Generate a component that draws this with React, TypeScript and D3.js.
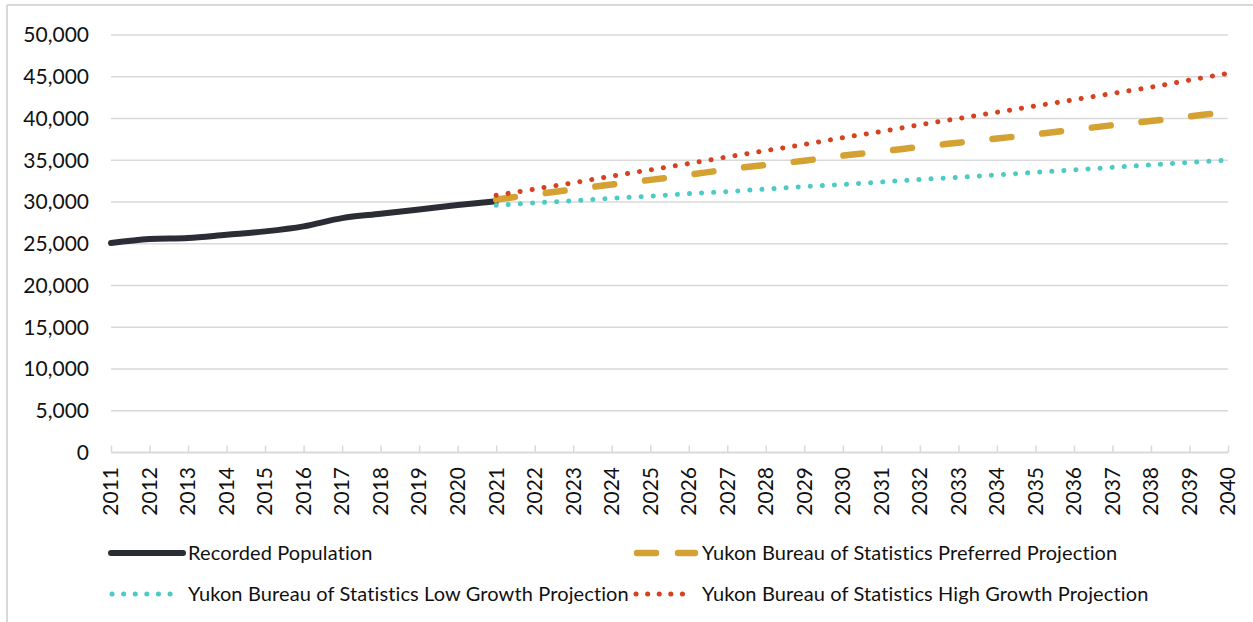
import React, { useEffect, useRef } from "react"
import * as d3 from "d3"

const recordedYears = [2011, 2012, 2013, 2014, 2015, 2016, 2017, 2018, 2019, 2020, 2021]
const recorded = [25080, 25560, 25680, 26080, 26480, 27080, 28070, 28590, 29110, 29630, 30100]

const projYears = [2021, 2022, 2023, 2024, 2025, 2026, 2027, 2028, 2029, 2030, 2031, 2032, 2033, 2034, 2035, 2036, 2037, 2038, 2039, 2040]
const preferred = [30300, 30900, 31500, 32100, 32650, 33250, 33900, 34450, 34950, 35550, 36050, 36600, 37100, 37600, 38100, 38650, 39200, 39700, 40250, 40800]
const lowGrowth = [29600, 29900, 30150, 30450, 30700, 31000, 31250, 31550, 31850, 32100, 32400, 32700, 32950, 33250, 33550, 33850, 34150, 34450, 34750, 35000]
const highGrowth = [30800, 31550, 32300, 33100, 33850, 34600, 35400, 36150, 36900, 37700, 38450, 39250, 40000, 40750, 41500, 42250, 43000, 43750, 44600, 45400]

const yTicks = [0, 5000, 10000, 15000, 20000, 25000, 30000, 35000, 40000, 45000, 50000]
const xTicks = d3.range(2011, 2041)

const FONT = "Lato, 'Open Sans', sans-serif"
const GRID = "#d9d9d9"

const series = [
  { name: "Recorded Population", years: recordedYears, values: recorded, color: "#2b2d34", width: 6, dash: null },
  { name: "Yukon Bureau of Statistics Preferred Projection", years: projYears, values: preferred, color: "#d4a232", width: 6.5, dash: "19,31" },
  { name: "Yukon Bureau of Statistics Low Growth Projection", years: projYears, values: lowGrowth, color: "#4ccac4", width: 5, dash: "0.1,12" },
  { name: "Yukon Bureau of Statistics High Growth Projection", years: projYears, values: highGrowth, color: "#d6421f", width: 5, dash: "0.1,12" },
]

export default function App() {
  const ref = useRef<SVGSVGElement>(null)

  useEffect(() => {
    const svg = d3.select(ref.current)
    svg.selectAll("*").remove()

    // frame
    svg.append("line").attr("x1", 7).attr("x2", 7).attr("y1", 5).attr("y2", 622).attr("stroke", GRID).attr("stroke-width", 2)
    svg.append("line").attr("x1", 7).attr("x2", 1253).attr("y1", 5).attr("y2", 5).attr("stroke", GRID).attr("stroke-width", 2)

    const x = d3.scaleLinear().domain([2011, 2040]).range([111, 1228])
    const y = d3.scaleLinear().domain([0, 50000]).range([452.5, 35])

    // gridlines
    svg.append("g").selectAll("line").data(yTicks.filter(d => d > 0)).join("line")
      .attr("x1", 111).attr("x2", 1228).attr("y1", d => y(d)).attr("y2", d => y(d))
      .attr("stroke", GRID).attr("stroke-width", 1.5)

    // y labels
    svg.append("g").selectAll("text").data(yTicks).join("text")
      .attr("x", 89).attr("y", d => y(d)).attr("dy", "0.35em")
      .attr("text-anchor", "end").attr("font-family", FONT).attr("font-size", 21).attr("fill", "#111")
      .text(d => d3.format(",")(d))

    // x axis
    const xAxis = d3.axisTop(x).tickValues(xTicks).tickSize(7).tickFormat(() => "")
    const gx = svg.append("g").attr("transform", `translate(0, ${y(0)})`).call(xAxis)
    gx.select(".domain").attr("stroke", GRID).attr("stroke-width", 2).attr("d", `M111,0H1228`)
    gx.selectAll(".tick line").attr("stroke", GRID).attr("stroke-width", 1.5)

    svg.append("g").selectAll("text").data(xTicks).join("text")
      .attr("transform", d => `translate(${x(d)}, 467) rotate(-90)`)
      .attr("text-anchor", "end").attr("dy", "0.35em")
      .attr("font-family", FONT).attr("font-size", 21).attr("fill", "#111")
      .text(d => String(d))

    // lines
    const line = d3.line<[number, number]>().x(d => x(d[0])).y(d => y(d[1])).curve(d3.curveCatmullRom.alpha(0.5))
    series.forEach(s => {
      const pts = s.years.map((yr, i) => [yr, s.values[i]] as [number, number])
      const p = svg.append("path").attr("d", line(pts)).attr("fill", "none")
        .attr("stroke", s.color).attr("stroke-width", s.width)
        .attr("stroke-linecap", "round").attr("stroke-linejoin", "round")
      if (s.dash) p.attr("stroke-dasharray", s.dash)
    })

    // legend
    const legend = [
      { s: series[0], x: 111, y: 553, len: 72, tx: 188 },
      { s: series[1], x: 637, y: 553, len: 58, tx: 702 },
      { s: series[2], x: 112, y: 594, len: 64, tx: 188 },
      { s: series[3], x: 636, y: 594, len: 56, tx: 702 },
    ]
    legend.forEach(l => {
      const g = svg.append("g")
      const ln = g.append("line").attr("x1", l.x).attr("x2", l.x + l.len).attr("y1", l.y).attr("y2", l.y)
        .attr("stroke", l.s.color).attr("stroke-width", l.s.width).attr("stroke-linecap", "round")
      if (l.s === series[1]) ln.attr("stroke-dasharray", "19,22")
      else if (l.s.dash) ln.attr("stroke-dasharray", "0.1,11.5")
      g.append("text").attr("x", l.tx).attr("y", l.y).attr("dy", "0.35em")
        .attr("font-family", FONT).attr("font-size", 20).attr("letter-spacing", 0.12).attr("fill", "#111").text(l.s.name)
    })
  }, [])

  return (
    <svg ref={ref} width={1253} height={622} style={{ position: "absolute", left: 0, top: 0, background: "#fff" }}></svg>
  )
}
